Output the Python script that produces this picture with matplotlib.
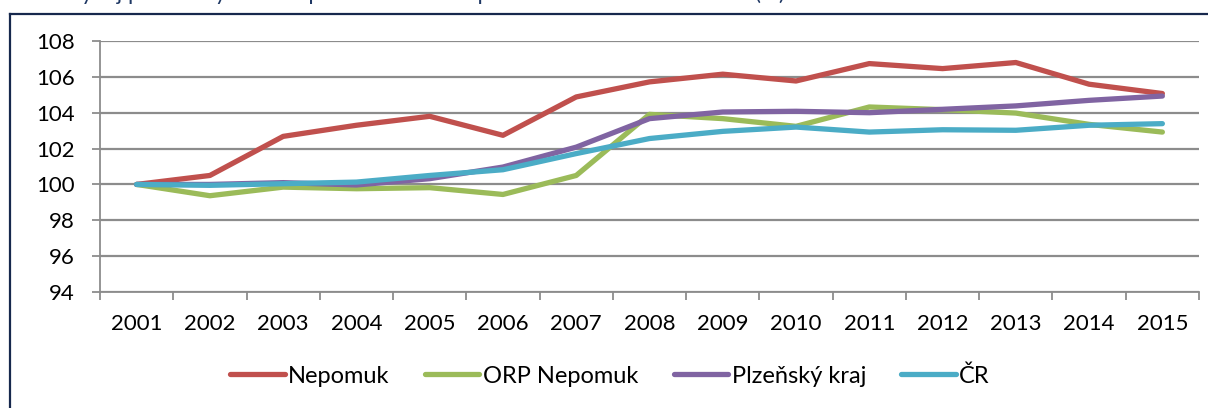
import matplotlib
matplotlib.use("Agg")
import matplotlib.pyplot as plt
from matplotlib.lines import Line2D

plt.rcParams['font.family'] = ['Lato', 'DejaVu Sans']

years = [str(y) for y in range(2001, 2016)]
nepomuk = [100.0, 100.5, 102.68, 103.3, 103.8, 102.74, 104.88, 105.72, 106.15, 105.77, 106.74, 106.46, 106.8, 105.59, 105.07]
orp_nepomuk = [100.0, 99.37, 99.85, 99.76, 99.82, 99.44, 100.5, 103.91, 103.67, 103.24, 104.32, 104.17, 103.98, 103.35, 102.92]
plzensky = [100.0, 100.0, 100.1, 99.97, 100.32, 100.97, 102.08, 103.67, 104.04, 104.08, 104.0, 104.19, 104.38, 104.69, 104.93]
cr = [100.0, 99.95, 100.04, 100.13, 100.5, 100.82, 101.72, 102.56, 102.96, 103.2, 102.92, 103.05, 103.02, 103.3, 103.39]
series_names = ["Nepomuk", "ORP Nepomuk", "Plzeňský kraj", "ČR"]
colors = ["#C0504D", "#9BBB59", "#8064A2", "#4BACC6"]
yticks = [94, 96, 98, 100, 102, 104, 106, 108]
title = "Graf 3: Vývoj počtu obyvatel Nepomuk a ORP Nepomuk v letech 2001–2015 (%)"

W, H = 1208, 408
fig = plt.figure(figsize=(W / 100, H / 100), dpi=100)

# outer frame (left and top lines)
fig.add_artist(Line2D([10 / W, 10 / W], [0, 1 - 14 / H], color="#17284D", lw=1.6,
                      transform=fig.transFigure))
fig.add_artist(Line2D([10 / W, 1], [1 - 14 / H, 1 - 14 / H], color="#17284D", lw=1.6,
                      transform=fig.transFigure))
# caption above the frame (cut off by the top edge, as in the source)
fig.text(785 / W, 1 + 0.5 / H, title, color="#1F3864", fontsize=16,
         va="baseline", ha="right")

ax = fig.add_axes([100 / W, 116 / H, 1099 / W, 251 / H])
x = list(range(len(years)))
for vals, name, c in zip([nepomuk, orp_nepomuk, plzensky, cr], series_names, colors):
    ax.plot(x, vals, color=c, lw=3.8, label=name, solid_capstyle="round", solid_joinstyle="round")

ax.set_xlim(-0.5, len(years) - 0.5)
ax.set_ylim(94, 108)
ax.set_yticks(yticks)
ax.set_yticklabels([str(v) for v in yticks])
ax.set_xticks(x)
ax.set_xticklabels(years)
ax.set_xticks([i - 0.5 for i in range(len(years) + 1)], minor=True)
ax.tick_params(axis="x", which="major", length=0, pad=16, labelsize=16, colors="black")
ax.tick_params(axis="x", which="minor", length=6, width=1.3, color="#8C8C8C")
ax.tick_params(axis="y", length=6, width=1.3, color="#8C8C8C", pad=12, labelsize=16)
ax.grid(axis="y", color="#8C8C8C", lw=1.6)
ax.set_axisbelow(True)
for s in ["top", "right"]:
    ax.spines[s].set_visible(False)
for s in ["left", "bottom"]:
    ax.spines[s].set_color("#8C8C8C")
    ax.spines[s].set_linewidth(1.3)

handles, labels = ax.get_legend_handles_labels()
fig.legend(handles, labels, loc="center", bbox_to_anchor=(0.505, 1 - 376 / H), ncol=4,
           frameon=False, fontsize=17, handlelength=2.3, handletextpad=0.15,
           columnspacing=1.5)

fig.savefig("out.png", dpi=100)
